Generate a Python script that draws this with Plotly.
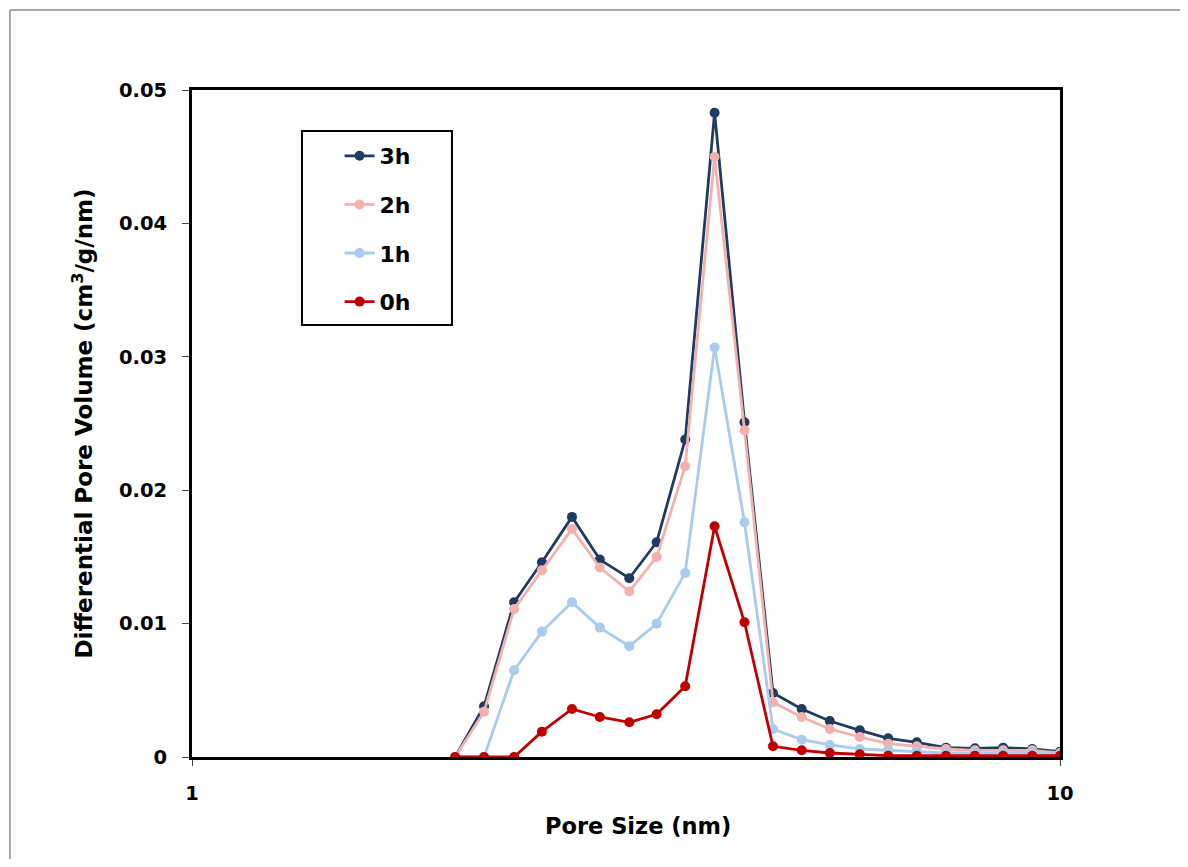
import plotly.graph_objects as go

pore_size = [2.01, 2.17, 2.35, 2.53, 2.74, 2.95, 3.19, 3.43, 3.70, 4.00, 4.33,
             4.67, 5.04, 5.43, 5.88, 6.34, 6.84, 7.39, 7.98, 8.60, 9.29, 10.0]

v_3h = [0.0, 0.0038, 0.0116, 0.0146, 0.0180, 0.0148, 0.0134, 0.0161, 0.0238, 0.0483, 0.0251,
        0.0048, 0.0036, 0.0027, 0.0020, 0.0014, 0.0011, 0.0007, 0.00065, 0.0007, 0.0006, 0.0004]
v_2h = [0.0, 0.0034, 0.0111, 0.0140, 0.0171, 0.0142, 0.0124, 0.0150, 0.0218, 0.0450, 0.0245,
        0.0041, 0.0030, 0.0021, 0.0015, 0.0010, 0.0008, 0.0006, 0.0005, 0.0005, 0.0005, 0.0003]
v_1h = [0.0, 0.0, 0.0065, 0.0094, 0.0116, 0.0097, 0.0083, 0.0100, 0.0138, 0.0307, 0.0176,
        0.0021, 0.0013, 0.0009, 0.0006, 0.0005, 0.0004, 0.0003, 0.0003, 0.0003, 0.0003, 0.0002]
v_0h = [0.0, 0.0, 0.0, 0.0019, 0.0036, 0.0030, 0.0026, 0.0032, 0.0053, 0.0173, 0.0101,
        0.0008, 0.0005, 0.0003, 0.0002, 0.0001, 0.0001, 0.0001, 0.0001, 0.0001, 0.0001, 0.0001]

series_names = ["3h", "2h", "1h", "0h"]
series_values = [v_3h, v_2h, v_1h, v_0h]
series_colors = ["#1F3B63", "#F2B1AC", "#A9CBEE", "#C00000"]

y_ticks = [0, 0.01, 0.02, 0.03, 0.04, 0.05]
y_ticklabels = ["0", "0.01", "0.02", "0.03", "0.04", "0.05"]
x_ticks = [1, 10]
x_ticklabels = ["1", "10"]

x_title = "Pore Size (nm)"
y_title = "Differential Pore Volume (cm<sup>3</sup>/g/nm)"

fig = go.Figure()
for name, vals, col in zip(series_names, series_values, series_colors):
    fig.add_trace(go.Scatter(
        x=pore_size, y=vals, name=name, mode="lines+markers",
        line=dict(color=col, width=2.8),
        marker=dict(color=col, size=10),
        legendgroup=name,
    ))

FONT = "DejaVu Sans, Verdana, sans-serif"
tick_font = dict(family=FONT, size=19.5, color="black", weight="bold")

fig.update_layout(
    width=1172, height=851,
    margin=dict(l=184, r=120, t=82, b=102, autoexpand=False),
    paper_bgcolor="white", plot_bgcolor="white",
    showlegend=True,
    legend=dict(
        x=0.170, y=0.9325, xanchor="left", yanchor="top",
        bgcolor="rgba(0,0,0,0)", borderwidth=0,
        font=dict(family=FONT, size=22, color="black", weight="bold"),
        tracegroupgap=17, traceorder="grouped",
    ),
    xaxis=dict(
        type="log", range=[0, 1],
        tickvals=x_ticks, ticktext=x_ticklabels,
        ticks="outside", ticklen=6, tickwidth=1, tickcolor="#444",
        showline=True, linewidth=3, linecolor="black", mirror=True,
        showgrid=False, zeroline=False,
        tickfont=tick_font, ticklabelstandoff=11,
        automargin=False,
    ),
    yaxis=dict(
        range=[0, 0.05],
        tickvals=y_ticks, ticktext=y_ticklabels,
        ticks="outside", ticklen=7, tickwidth=1, tickcolor="#444",
        showline=True, linewidth=3, linecolor="black", mirror=True,
        showgrid=False, zeroline=False,
        tickfont=tick_font, ticklabelstandoff=11,
        title=dict(text=y_title, font=dict(family=FONT, size=23, color="black", weight="bold"), standoff=20),
        automargin=False,
    ),
    annotations=[
        dict(text=x_title, xref="paper", yref="paper", x=0.5138, y=-0.1034,
             xanchor="center", yanchor="middle", showarrow=False,
             font=dict(family=FONT, size=22.5, color="black", weight="bold")),
    ],
    shapes=[
        dict(type="rect", xref="paper", yref="paper",
             x0=0.1267, x1=0.2995, y0=0.6477, y1=0.9385,
             line=dict(color="black", width=2), fillcolor="rgba(0,0,0,0)", layer="above"),
        dict(type="rect", xref="paper", yref="paper",
             x0=-0.2097, x1=1.5, y0=-0.5, y1=1.12,
             line=dict(color="#555555", width=1), fillcolor="rgba(0,0,0,0)", layer="below"),
    ],
)

fig.write_html("out.html")
